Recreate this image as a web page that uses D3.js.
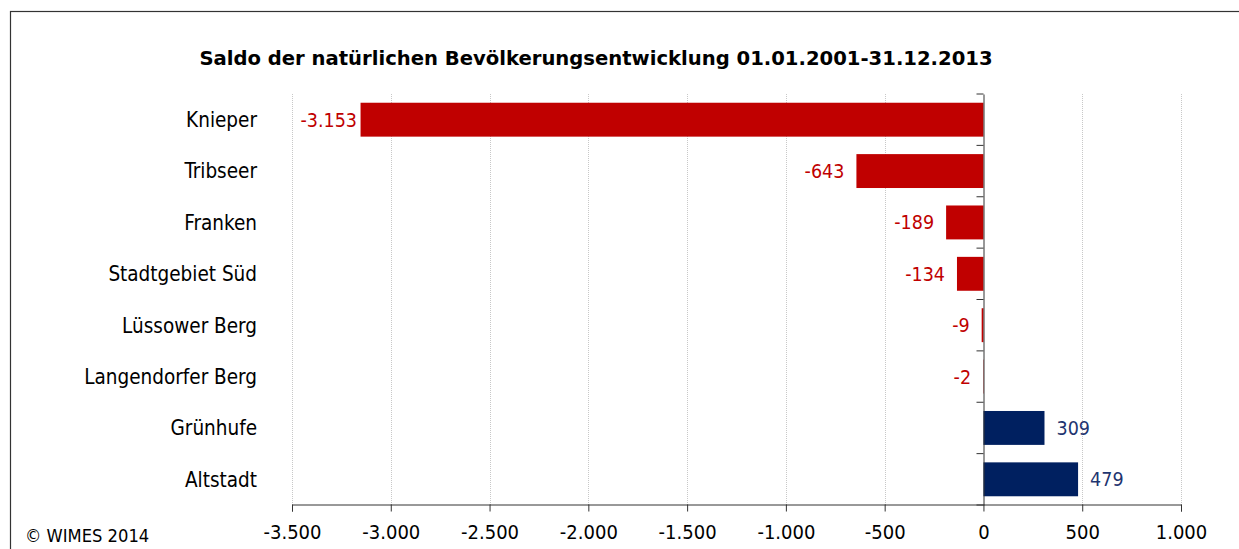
<!DOCTYPE html>
<html>
<head>
<meta charset="utf-8">
<script src="https://cdn.jsdelivr.net/npm/d3@7"></script>
<style>
  body { margin: 0; background: #fff; }
  text { font-family: Tahoma, "DejaVu Sans Condensed", "DejaVu Sans", sans-serif; }
</style>
</head>
<body>
<svg width="1239" height="549"></svg>
<script>
// chart data
const districts = ["Knieper", "Tribseer", "Franken", "Stadtgebiet Süd", "Lüssower Berg",
  "Langendorfer Berg", "Grünhufe", "Altstadt"];
const saldo = [-3153, -643, -189, -134, -9, -2, 309, 479];
const xTicks = [-3500, -3000, -2500, -2000, -1500, -1000, -500, 0, 500, 1000];
const title = "Saldo der natürlichen Bevölkerungsentwicklung 01.01.2001-31.12.2013";
const footer = "© WIMES 2014";

const de = d3.formatLocale({ decimal: ",", thousands: ".", grouping: [3], currency: ["", "€"], minus: "-" });
const fmt = de.format(",d");

document.addEventListener("DOMContentLoaded", function () {
  const svg = d3.select("svg");
  const data = districts.map((d, i) => ({ name: d, value: saldo[i] }));

  const left = 292, right = 1181, top = 94, bottom = 505;

  // frame
  svg.append("rect")
    .attr("x", 10.5).attr("y", 11.5)
    .attr("width", 1240).attr("height", 560)
    .attr("fill", "none").attr("stroke", "#333").attr("stroke-width", 1.2);

  svg.append("text")
    .attr("x", 596).attr("y", 65)
    .attr("text-anchor", "middle")
    .style("font-family", '"DejaVu Sans", sans-serif')
    .style("font-weight", "bold").style("font-size", "19.6px")
    .text(title);

  const x = d3.scaleLinear().domain([-3500, 1000]).range([left, right]);
  const y = d3.scaleBand().domain(districts).range([top, bottom]).paddingInner(0.34).paddingOuter(0.17);

  // gridlines
  svg.append("g").selectAll("line")
    .data(xTicks.filter(t => t !== 0))
    .join("line")
    .attr("x1", d => Math.round(x(d)) + 0.5).attr("x2", d => Math.round(x(d)) + 0.5)
    .attr("y1", top).attr("y2", bottom)
    .attr("stroke", "#c8c8c8").attr("stroke-dasharray", "1,1");

  // bars
  svg.append("g").selectAll("rect")
    .data(data)
    .join("rect")
    .attr("x", d => x(Math.min(0, d.value)))
    .attr("y", d => y(d.name))
    .attr("width", d => Math.abs(x(d.value) - x(0)))
    .attr("height", y.bandwidth())
    .attr("fill", d => d.value < 0 ? "#c00000" : "#002060");

  // value labels
  svg.append("g").selectAll("text")
    .data(data)
    .join("text")
    .attr("x", d => d.value < 0 ? Math.max(x(d.value) - 12, left + 65) : x(d.value) + 12)
    .attr("y", d => y(d.name) + y.bandwidth() / 2)
    .attr("dy", "0.36em")
    .attr("text-anchor", d => d.value < 0 ? "end" : "start")
    .attr("fill", d => d.value < 0 ? "#c00000" : "#1f3570")
    .style("font-size", "19.5px")
    .text(d => fmt(d.value));

  // x axis
  const xAxis = svg.append("g")
    .attr("transform", `translate(0,${bottom - 0.5})`)
    .call(d3.axisBottom(x).tickValues(xTicks).tickFormat(fmt).tickSizeOuter(0).tickSize(7).tickPadding(13));
  xAxis.selectAll("path, line").attr("stroke", "#333");
  xAxis.selectAll("text").style("font-size", "20px").attr("fill", "#000")
    .style("font-family", 'Tahoma, "DejaVu Sans Condensed", "DejaVu Sans", sans-serif');

  // category axis at zero
  const yAxis = svg.append("g")
    .attr("transform", `translate(${Math.round(x(0)) + 0.5},0)`)
    .call(d3.axisLeft(y).tickSize(0).tickFormat(""));
  yAxis.select("path").attr("stroke", "#333");
  yAxis.selectAll(".bound")
    .data(d3.range(districts.length + 1))
    .join("line")
    .attr("class", "bound")
    .attr("x1", -7).attr("x2", 0)
    .attr("y1", i => top + i * y.step()).attr("y2", i => top + i * y.step())
    .attr("stroke", "#333");

  // category labels
  svg.append("g").selectAll("text")
    .data(districts)
    .join("text")
    .attr("x", 257)
    .attr("y", d => y(d) + y.bandwidth() / 2)
    .attr("dy", "0.36em")
    .attr("text-anchor", "end")
    .style("font-size", "20.5px")
    .text(d => d);

  svg.append("text")
    .attr("x", 25).attr("y", 542)
    .style("font-size", "18.2px")
    .text(footer);
});
</script>
</body>
</html>
